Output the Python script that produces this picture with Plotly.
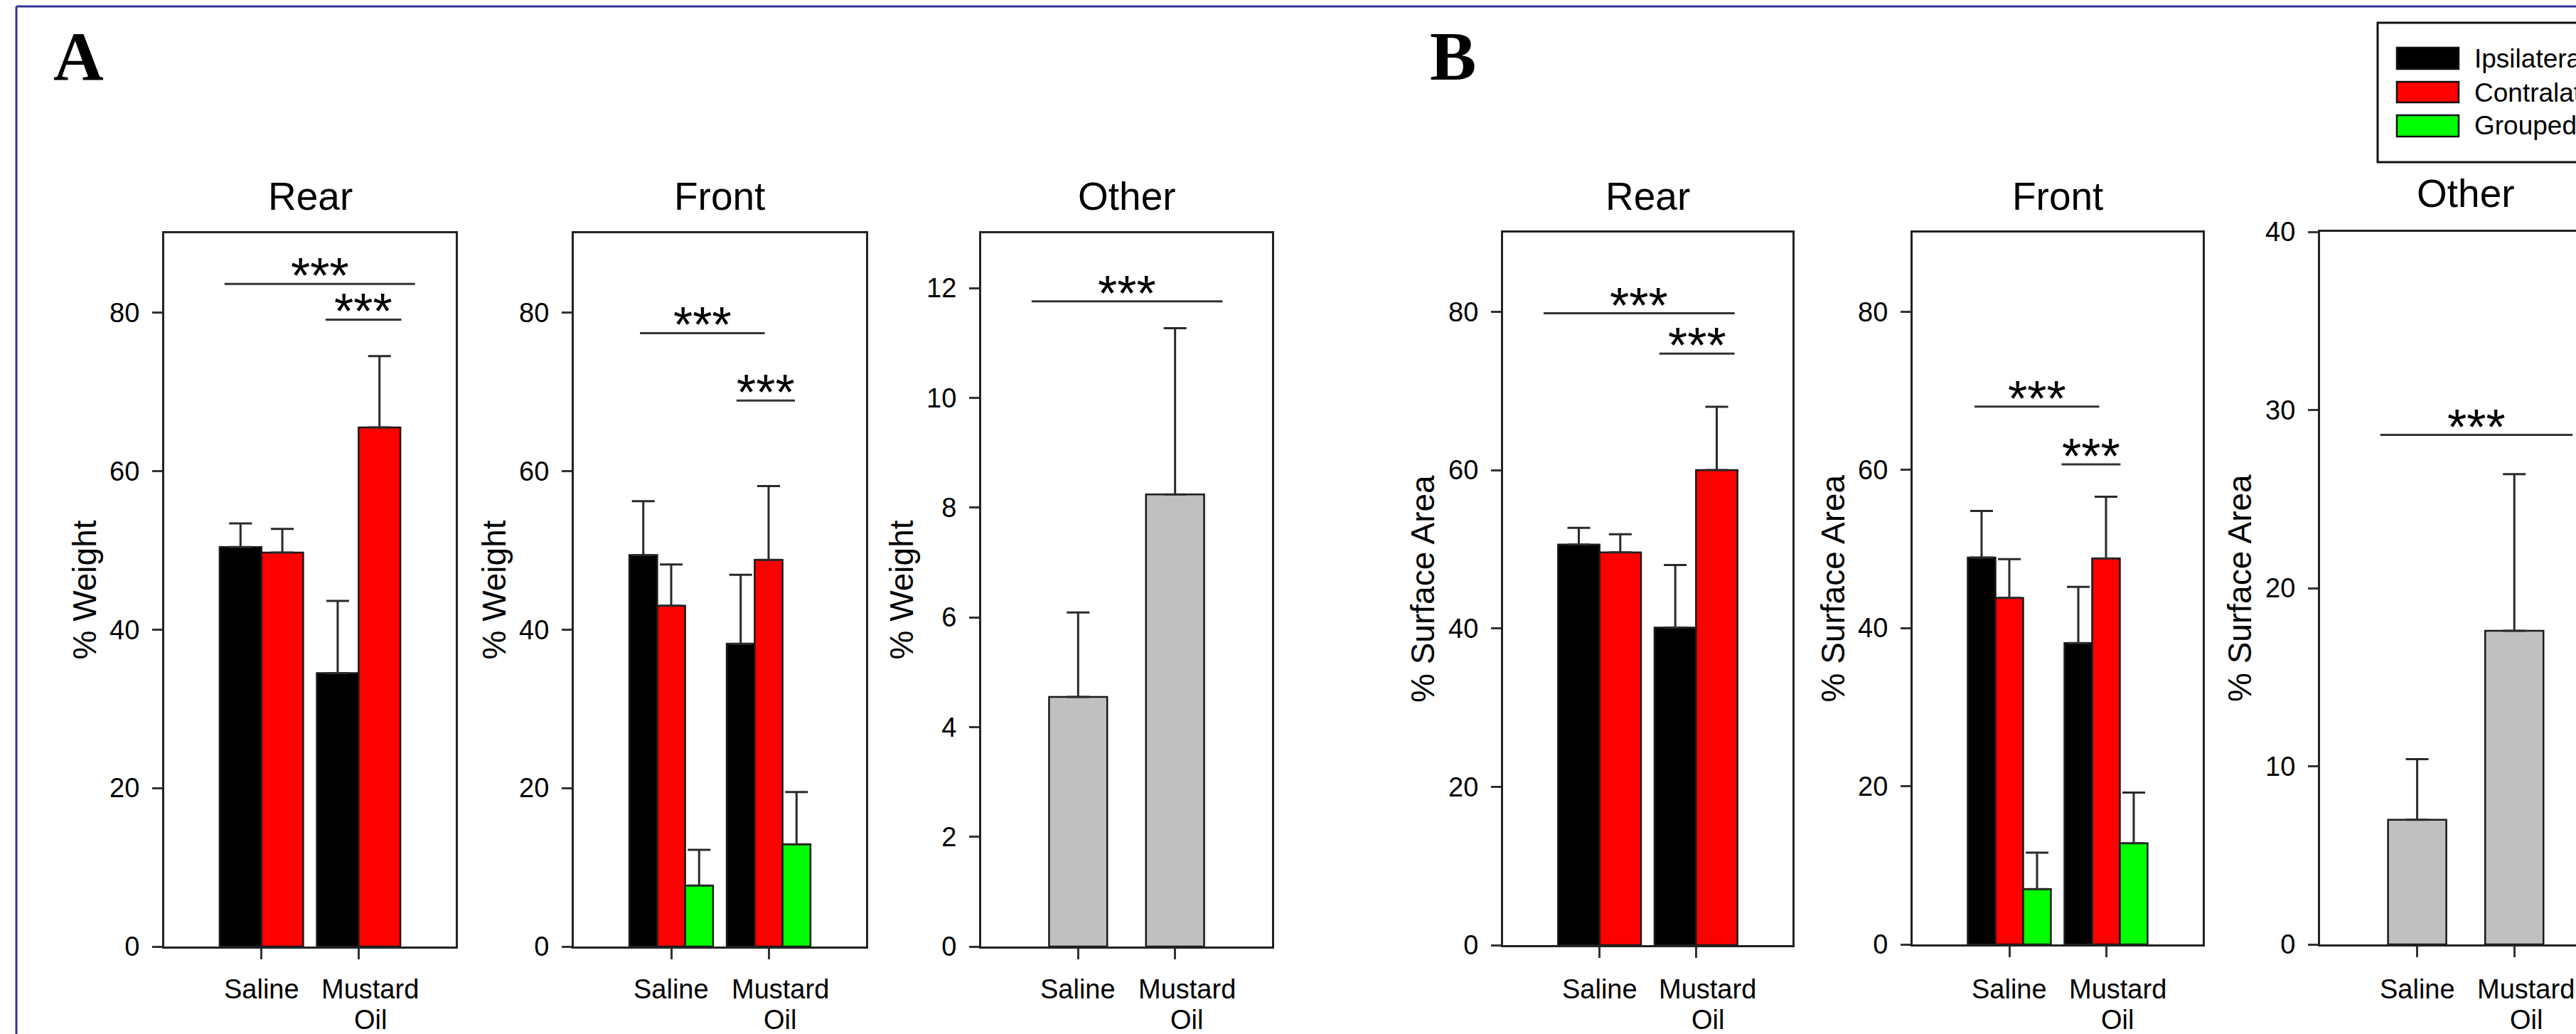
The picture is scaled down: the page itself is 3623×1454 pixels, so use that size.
import plotly.graph_objects as go

W, H = 3623, 1454

# ---------------- data ----------------
cat_pos = [0, 1]
cat_labels = ["Saline", "Mustard<br>Oil"]
series_names = ["Ipsilateral", "Contralateral", "Grouped"]

# Panel A (% Weight)
a_rear_ipsi = [50.4, 34.5]
a_rear_ipsi_sem = [3.0, 9.1]
a_rear_contra = [49.7, 65.5]
a_rear_contra_sem = [3.0, 9.0]

a_front_ipsi = [49.4, 38.2]
a_front_ipsi_sem = [6.8, 8.7]
a_front_contra = [43.0, 48.8]
a_front_contra_sem = [5.2, 9.3]
a_front_grouped = [7.7, 12.9]
a_front_grouped_sem = [4.5, 6.6]

a_other = [4.55, 8.24]
a_other_sem = [1.54, 3.03]

# Panel B (% Surface Area)
b_rear_ipsi = [50.6, 40.1]
b_rear_ipsi_sem = [2.1, 7.9]
b_rear_contra = [49.6, 60.0]
b_rear_contra_sem = [2.3, 8.0]

b_front_ipsi = [48.9, 38.1]
b_front_ipsi_sem = [5.9, 7.1]
b_front_contra = [43.8, 48.8]
b_front_contra_sem = [4.9, 7.8]
b_front_grouped = [7.0, 12.8]
b_front_grouped_sem = [4.6, 6.4]

b_other = [7.0, 17.6]
b_other_sem = [3.4, 8.8]

# significance brackets: (x_start, x_end, y)
a_rear_sig = [(-0.38, 1.58, 83.6), (0.66, 1.44, 79.1)]
a_front_sig = [(-0.32, 0.96, 77.4), (0.67, 1.27, 68.9)]
a_other_sig = [(-0.48, 1.49, 11.76)]
b_rear_sig = [(-0.58, 1.40, 79.8), (0.62, 1.40, 74.7)]
b_front_sig = [(-0.36, 0.93, 68.0), (0.54, 1.15, 60.7)]
b_other_sig = [(-0.38, 1.60, 28.6)]
sig_text = "***"

y_ticks_pct = [0, 20, 40, 60, 80]
y_ticks_a_other = [0, 2, 4, 6, 8, 10, 12]
y_ticks_b_other = [0, 10, 20, 30, 40]

# ---------------- style ----------------
C_IPSI = "#000000"
C_CONTRA = "#FF0000"
C_GROUP = "#00FF00"
C_OTHER = "#C0C0C0"
FONT = "Liberation Sans, Arial, sans-serif"
SERIF = "Liberation Serif, Times New Roman, serif"
LINE_C = "#222222"

def px(x):
    return x / W

def py(y):
    return 1 - y / H

# panel boxes in pixels: left, right, top, bottom
panels = [
    dict(key="1", box=(231, 641, 328, 1331), xr=[-1, 2], yr=[0, 90], ticks=y_ticks_pct,
         title="Rear", ytitle="% Weight", mirror_y=True,
         series=[(a_rear_ipsi, a_rear_ipsi_sem, C_IPSI), (a_rear_contra, a_rear_contra_sem, C_CONTRA)],
         sig=a_rear_sig),
    dict(key="2", box=(807, 1218, 328, 1331), xr=[-1, 2], yr=[0, 90], ticks=y_ticks_pct,
         title="Front", ytitle="% Weight", mirror_y=True,
         series=[(a_front_ipsi, a_front_ipsi_sem, C_IPSI), (a_front_contra, a_front_contra_sem, C_CONTRA),
                 (a_front_grouped, a_front_grouped_sem, C_GROUP)],
         sig=a_front_sig),
    dict(key="3", box=(1380, 1789, 328, 1331), xr=[-1, 2], yr=[0, 13], ticks=y_ticks_a_other,
         title="Other", ytitle="% Weight", mirror_y=True,
         series=[(a_other, a_other_sem, C_OTHER)], sig=a_other_sig),
    dict(key="4", box=(2114, 2521, 327, 1329), xr=[-1, 2], yr=[0, 90], ticks=y_ticks_pct,
         title="Rear", ytitle="% Surface Area", mirror_y=True,
         series=[(b_rear_ipsi, b_rear_ipsi_sem, C_IPSI), (b_rear_contra, b_rear_contra_sem, C_CONTRA)],
         sig=b_rear_sig),
    dict(key="5", box=(2690, 3098, 327, 1328), xr=[-1, 2], yr=[0, 90], ticks=y_ticks_pct,
         title="Front", ytitle="% Surface Area", mirror_y=True,
         series=[(b_front_ipsi, b_front_ipsi_sem, C_IPSI), (b_front_contra, b_front_contra_sem, C_CONTRA),
                 (b_front_grouped, b_front_grouped_sem, C_GROUP)],
         sig=b_front_sig),
    dict(key="6", box=(3263, 3623, 326, 1328), xr=[-1, 1.635], yr=[0, 40], ticks=y_ticks_b_other,
         title="Other", ytitle="% Surface Area", mirror_y=False,
         series=[(b_other, b_other_sem, C_OTHER)], sig=b_other_sig),
]

fig = go.Figure()
layout = dict(
    width=W, height=H, margin=dict(l=0, r=0, t=0, b=0, pad=0, autoexpand=False),
    paper_bgcolor="white", plot_bgcolor="white",
    barmode="group", bargap=0.14, bargroupgap=0.0,
    showlegend=False, font=dict(family=FONT, color="black"),
)
annotations = []
shapes = []

for p in panels:
    k = p["key"]
    xa = "x" if k == "1" else "x" + k
    ya = "y" if k == "1" else "y" + k
    L, R, T, B = p["box"]
    for vals, sem, col in p["series"]:
        single = len(p["series"]) == 1
        fig.add_trace(go.Bar(
            x=cat_pos, y=vals, xaxis=xa, yaxis=ya,
            width=0.6 if single else None,
            marker=dict(color=col, line=dict(color="#1a1a1a", width=2.5)),
            error_y=dict(type="data", array=sem, arrayminus=[0] * len(sem), symmetric=False,
                         color="#2a2a2a", thickness=3, width=16),
            hoverinfo="skip",
        ))
    layout["xaxis" + ("" if k == "1" else k)] = dict(
        domain=[px(L), min(px(R), 1.0)], range=p["xr"], anchor=ya, automargin=False,
        showline=True, linecolor=LINE_C, linewidth=3, mirror=True,
        showgrid=False, zeroline=False,
        tickmode="array", tickvals=cat_pos, ticktext=["", ""],
        ticks="outside", ticklen=15, tickwidth=3, tickcolor="#333333",
    )
    layout["yaxis" + ("" if k == "1" else k)] = dict(
        domain=[py(B), py(T)], range=p["yr"], anchor=xa, automargin=False,
        showline=True, linecolor=LINE_C, linewidth=3, mirror=p["mirror_y"],
        showgrid=False, zeroline=False,
        tickmode="array", tickvals=p["ticks"],
        ticks="outside", ticklen=14, tickwidth=3, tickcolor="#333333",
        tickfont=dict(size=38, color="black", family=FONT),
        ticklabelstandoff=10,
    )
    full_R = L + 3 * (R - L) / (p["xr"][1] - p["xr"][0]) if k == "6" else R
    cx = (L + full_R) / 2
    # panel title
    annotations.append(dict(text=p["title"], x=px(cx), y=py(276 if k != "6" else 272),
                            xref="paper", yref="paper", xanchor="center", yanchor="middle",
                            showarrow=False, font=dict(size=55, family=FONT, color="black")))
    # y axis title
    annotations.append(dict(text=p["ytitle"], x=px(L - 113), y=py((T + B) / 2),
                            xref="paper", yref="paper", xanchor="center", yanchor="middle",
                            textangle=-90, showarrow=False,
                            font=dict(size=46, family=FONT, color="black")))
    # category labels (each line placed separately so the second line fits)
    for i, lab in enumerate(cat_labels):
        shift = 0.12 if i == 1 else 0.0
        for j, line in enumerate(lab.split("<br>")):
            annotations.append(dict(text=line, x=cat_pos[i] + shift, y=py(1368 + 43 * j),
                                    xref=xa, yref="paper", xanchor="center", yanchor="top",
                                    showarrow=False, font=dict(size=38, family=FONT, color="black")))
    # significance brackets
    for x0, x1, yv in p["sig"]:
        shapes.append(dict(type="line", xref=xa, yref=ya, x0=x0, x1=x1, y0=yv, y1=yv,
                           line=dict(color="#333333", width=3)))
        annotations.append(dict(text=sig_text, x=(x0 + x1) / 2, y=yv, xref=xa, yref=ya,
                                xanchor="center", yanchor="bottom", yshift=-30,
                                showarrow=False, font=dict(size=70, family=FONT, color="black")))

# panel letters
annotations.append(dict(text="<b>A</b>", x=px(110), y=py(79), xref="paper", yref="paper",
                        xanchor="center", yanchor="middle", showarrow=False,
                        font=dict(size=98, family=SERIF, color="black")))
annotations.append(dict(text="<b>B</b>", x=px(2043), y=py(79), xref="paper", yref="paper",
                        xanchor="center", yanchor="middle", showarrow=False,
                        font=dict(size=98, family=SERIF, color="black")))

# outer frame (left and top edges visible)
shapes.append(dict(type="line", xref="paper", yref="paper", x0=px(23), x1=px(23), y0=py(9), y1=py(H + 20),
                   line=dict(color="#34349a", width=3)))
shapes.append(dict(type="line", xref="paper", yref="paper", x0=px(23), x1=px(W + 20), y0=py(9), y1=py(9),
                   line=dict(color="#34349a", width=3)))

# legend (drawn manually, it is cut by the right edge)
shapes.append(dict(type="rect", xref="paper", yref="paper", x0=px(3344), x1=px(3800), y0=py(228), y1=py(32),
                   line=dict(color="#111111", width=3), fillcolor="rgba(0,0,0,0)"))
legend_rows = [(67, 97, C_IPSI), (115, 144, C_CONTRA), (162, 192, C_GROUP)]
legend_text_y = [82, 130, 177]
for (y0, y1, col), name, ty in zip(legend_rows, series_names, legend_text_y):
    shapes.append(dict(type="rect", xref="paper", yref="paper", x0=px(3371), x1=px(3458),
                       y0=py(y1), y1=py(y0), fillcolor=col, line=dict(color="#111111", width=2.5)))
    annotations.append(dict(text=name, x=px(3478), y=py(ty), xref="paper", yref="paper",
                            xanchor="left", yanchor="middle", showarrow=False,
                            font=dict(size=37, family=FONT, color="black")))

layout["annotations"] = annotations
layout["shapes"] = shapes
fig.update_layout(**layout)
fig.write_html("out.html")
